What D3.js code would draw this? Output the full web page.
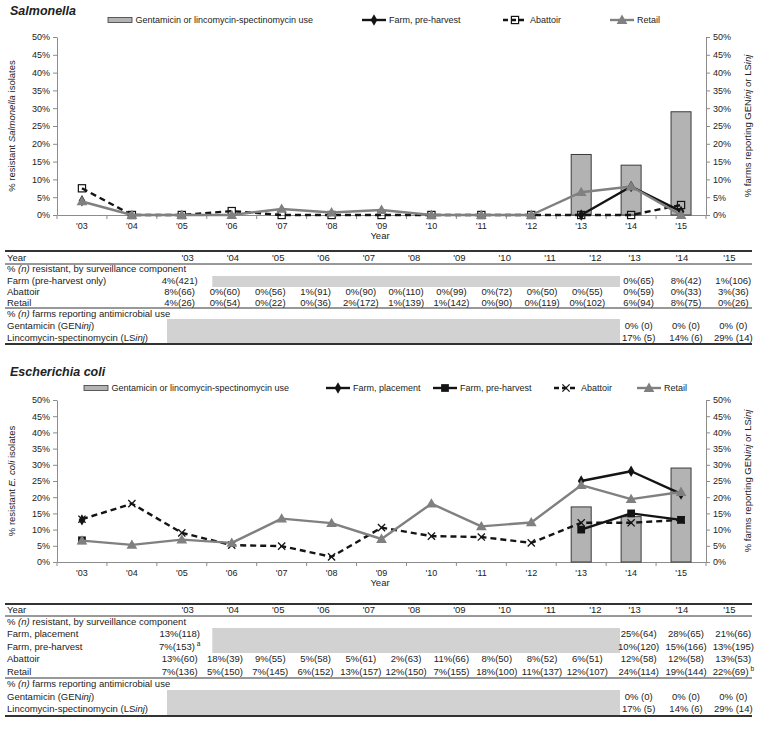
<!DOCTYPE html>
<html><head><meta charset="utf-8">
<script src="https://cdn.jsdelivr.net/npm/d3@7"></script>
<style>
body{margin:0;background:#fff;}
svg{font-family:"Liberation Sans",Arial,sans-serif;}
</style>
</head><body>
<svg id="c" width="762" height="733"></svg>
<script>
// ---------- DATA ----------
const years = ["'03","'04","'05","'06","'07","'08","'09","'10","'11","'12","'13","'14","'15"];
const yTicks = [0,5,10,15,20,25,30,35,40,45,50];

// Salmonella chart
const salUse      = [null,null,null,null,null,null,null,null,null,null,17,14,29];
const salFarmPre  = [4,null,null,null,null,null,null,null,null,null,0,8,1];
const salAbattoir = [7.5,0,0,1.1,0,0,0,0,0,0,0,0,2.8];
const salRetail   = [3.8,0,0,0,1.7,0.7,1.4,0,0,0,6.4,8.0,0];

// E. coli chart
const ecUse        = [null,null,null,null,null,null,null,null,null,null,17,14,29];
const ecFarmPlace  = [13,null,null,null,null,null,null,null,null,null,25,28,21];
const ecFarmPre    = [6.7,null,null,null,null,null,null,null,null,null,10,15,13];
const ecAbattoir   = [13.2,18,9,5.2,4.9,1.6,10.6,8,7.7,5.9,12.1,12.1,13];
const ecRetail     = [6.6,5.3,6.9,5.9,13.4,12,7.1,18,11,12.2,23.7,19.4,21.6];

// Salmonella table
const salTabFarm  = ["4%(421)",null,null,null,null,null,null,null,null,null,"0%(65)","8%(42)","1%(106)"];
const salTabAbat  = ["8%(66)","0%(60)","0%(56)","1%(91)","0%(90)","0%(110)","0%(99)","0%(72)","0%(50)","0%(55)","0%(59)","0%(33)","3%(36)"];
const salTabRet   = ["4%(26)","0%(54)","0%(22)","0%(36)","2%(172)","1%(139)","1%(142)","0%(90)","0%(119)","0%(102)","6%(94)","8%(75)","0%(26)"];
const salTabGen   = [null,null,null,null,null,null,null,null,null,null,"0% (0)","0% (0)","0% (0)"];
const salTabLin   = [null,null,null,null,null,null,null,null,null,null,"17% (5)","14% (6)","29% (14)"];

// E. coli table
const ecTabPlace  = ["13%(118)",null,null,null,null,null,null,null,null,null,"25%(64)","28%(65)","21%(66)"];
const ecTabPre    = ["7%(153)",null,null,null,null,null,null,null,null,null,"10%(120)","15%(166)","13%(195)"];
const ecTabAbat   = ["13%(60)","18%(39)","9%(55)","5%(58)","5%(61)","2%(63)","11%(66)","8%(50)","8%(52)","6%(51)","12%(58)","12%(58)","13%(53)"];
const ecTabRet    = ["7%(136)","5%(150)","7%(145)","6%(152)","13%(157)","12%(150)","7%(155)","18%(100)","11%(137)","12%(107)","24%(114)","19%(144)","22%(69)"];
const ecTabGen    = [null,null,null,null,null,null,null,null,null,null,"0% (0)","0% (0)","0% (0)"];
const ecTabLin    = [null,null,null,null,null,null,null,null,null,null,"17% (5)","14% (6)","29% (14)"];

// ---------- DRAWING ----------
const svg = d3.select("#c");
const BLACK = "#141414", GREY = "#808080", BARFILL = "#b3b3b3", AXIS = "#8c8c8c", SHADE = "#d2d2d2";

const x = d3.scaleBand().domain(years).range([57, 706]);
const cx = d => x(d) + x.bandwidth()/2;

function xMarkPath(s){ return `M${-s},${-s}L${s},${s}M${-s},${s}L${s},${-s}`; }

function marker(g, type, px, py, color){
  if(type==="diamond"){
    g.append("path").attr("d", d3.symbol().type(d3.symbolDiamond).size(38)()).attr("transform",`translate(${px},${py})`).attr("fill",color);
  } else if(type==="square"){
    g.append("path").attr("d", d3.symbol().type(d3.symbolSquare).size(60)()).attr("transform",`translate(${px},${py})`).attr("fill",color);
  } else if(type==="opensquare"){
    g.append("rect").attr("x",px-3.6).attr("y",py-3.6).attr("width",7.2).attr("height",7.2).attr("fill","none").attr("stroke",color).attr("stroke-width",1.2);
  } else if(type==="triangle"){
    g.append("path").attr("d", d3.symbol().type(d3.symbolTriangle).size(50)()).attr("transform",`translate(${px},${py+0.8})`).attr("fill",color);
  } else if(type==="x"){
    g.append("path").attr("d", xMarkPath(3.6)).attr("transform",`translate(${px},${py})`).attr("stroke",color).attr("stroke-width",1.3).attr("fill","none");
  }
}

function drawChart(cfg){
  const g = svg.append("g");
  const y = d3.scaleLinear().domain([0,50]).range([cfg.y0, cfg.y50]);

  g.append("text").attr("x",10).attr("y",cfg.titleY).attr("font-size",12.5).attr("font-weight","bold").attr("font-style","italic").attr("fill","#222").text(cfg.title);

  const la = g.append("g").attr("transform","translate(57,0)")
    .call(d3.axisLeft(y).tickValues(yTicks).tickFormat(d=>d+"%").tickSize(4).tickSizeOuter(0));
  const ra = g.append("g").attr("transform","translate(706,0)")
    .call(d3.axisRight(y).tickValues(yTicks).tickFormat(d=>d+"%").tickSize(4).tickSizeOuter(0));
  [la,ra].forEach(a=>{
    a.selectAll("path.domain").attr("stroke",AXIS);
    a.selectAll(".tick line").attr("stroke",AXIS);
    a.selectAll("text").attr("font-size",9).attr("fill","#222").attr("font-family","Liberation Sans, Arial, sans-serif");
  });
  const xa = g.append("g").attr("transform",`translate(0,${cfg.y0})`)
    .call(d3.axisBottom(x).tickSize(0).tickPadding(8));
  xa.selectAll("path.domain").attr("stroke",AXIS);
  xa.selectAll("text").attr("font-size",9).attr("fill","#222").attr("font-family","Liberation Sans, Arial, sans-serif");
  const bounds = years.map(d=>x(d)).concat([x.range()[1]]);
  g.selectAll(null).data(bounds).enter().append("line")
    .attr("x1",d=>d).attr("x2",d=>d).attr("y1",cfg.y0).attr("y2",cfg.y0+4).attr("stroke",AXIS);

  g.append("text").attr("x",380).attr("y",cfg.y0+24).attr("text-anchor","middle").attr("font-size",9.5).attr("fill","#222").text("Year");
  const lt = g.append("text").attr("transform",`translate(15,${(cfg.y0+cfg.y50)/2}) rotate(-90)`).attr("text-anchor","middle").attr("font-size",9.5).attr("fill","#222");
  lt.append("tspan").text("% resistant ");
  lt.append("tspan").attr("font-style","italic").text(cfg.organism);
  lt.append("tspan").text(" isolates");
  const rt = g.append("text").attr("transform",`translate(751,${(cfg.y0+cfg.y50)/2}) rotate(-90)`).attr("text-anchor","middle").attr("font-size",9.5).attr("fill","#222");
  rt.append("tspan").text("% farms reporting GEN");
  rt.append("tspan").attr("font-style","italic").text("inj");
  rt.append("tspan").text(" or LS");
  rt.append("tspan").attr("font-style","italic").text("inj");

  const bw = 20;
  cfg.use.forEach((v,i)=>{
    if(v==null) return;
    g.append("rect").attr("x",cx(years[i])-bw/2).attr("y",y(v)).attr("width",bw).attr("height",y(0)-y(v))
      .attr("fill",BARFILL).attr("stroke","#3a3a3a").attr("stroke-width",1);
  });

  cfg.series.forEach(s=>{
    const line = d3.line().defined(d=>d!=null).x((d,i)=>cx(years[i])).y(d=>y(d));
    g.append("path").datum(s.values).attr("d",line).attr("fill","none").attr("stroke",s.color)
      .attr("stroke-width",2.4).attr("stroke-dasharray",s.dash||null).attr("stroke-linejoin","round");
    s.values.forEach((v,i)=>{ if(v!=null) marker(g,s.marker,cx(years[i]),y(v),s.mcolor||s.color); });
  });

  const ly = cfg.legendY;
  const lg = g.append("g");
  lg.append("rect").attr("x",cfg.legend.bar).attr("y",ly-2.5).attr("width",24).attr("height",5).attr("fill",BARFILL).attr("stroke","#3a3a3a").attr("stroke-width",0.8);
  lg.append("text").attr("x",cfg.legend.bar+27.5).attr("y",ly+3.2).attr("font-size",9).attr("fill","#222").text("Gentamicin or lincomycin-spectinomycin use");
  cfg.series.forEach((s,k)=>{
    const lx = cfg.legend.items[k];
    lg.append("line").attr("x1",lx).attr("x2",lx+24).attr("y1",ly).attr("y2",ly).attr("stroke",s.color).attr("stroke-width",2.4).attr("stroke-dasharray",s.dash?"5,3":null);
    marker(lg,s.marker,lx+12,ly,s.mcolor||s.color);
    lg.append("text").attr("x",lx+27).attr("y",ly+3.2).attr("font-size",9).attr("fill","#222").text(s.name);
  });
}

drawChart({
  title:"Salmonella", organism:"Salmonella", titleY:15, legendY:20, y0:215, y50:37,
  use: salUse,
  legend:{bar:108, items:[362,503,610]},
  series:[
    {name:"Farm, pre-harvest", values:salFarmPre, color:BLACK, marker:"diamond"},
    {name:"Abattoir", values:salAbattoir, color:BLACK, dash:"6,4", marker:"opensquare"},
    {name:"Retail", values:salRetail, color:GREY, marker:"triangle"}
  ]
});
drawChart({
  title:"Escherichia coli", organism:"E. coli", titleY:376, legendY:388, y0:562, y50:400,
  use: ecUse,
  legend:{bar:84, items:[326,433,554,637]},
  series:[
    {name:"Farm, placement", values:ecFarmPlace, color:BLACK, marker:"diamond"},
    {name:"Farm, pre-harvest", values:ecFarmPre, color:BLACK, marker:"square"},
    {name:"Abattoir", values:ecAbattoir, color:BLACK, dash:"6,4", marker:"x"},
    {name:"Retail", values:ecRetail, color:GREY, marker:"triangle"}
  ]
});

// ---------- TABLES ----------
const colA = d3.scaleBand().domain(years.slice(0,10)).range([167,620]);
const colB = d3.scaleBand().domain(years.slice(10)).range([618,760]);
const colLeft = i => i<10 ? colA(years[i]) : colB(years[i]);
const colW = i => i<10 ? colA.bandwidth() : colB.bandwidth();
const dataX = i => colLeft(i) + colW(i)/2 + (i<10 ? -10 : -3);
const headX = i => colLeft(i) + colW(i)/2 + (i<10 ? -2 : -7);

function hline(g,y,w){ g.append("line").attr("x1",5).attr("x2",752).attr("y1",y).attr("y2",y).attr("stroke","#333").attr("stroke-width",w); }

function drawTable(t){
  const g = svg.append("g").attr("font-size",9.5).attr("fill","#222");
  t.shades.forEach(s=>{
    const left = colLeft(s.from), right = colA(years[s.to]) + colA.bandwidth();
    g.append("rect").attr("x",left).attr("y",s.y1).attr("width",right-left).attr("height",s.y2-s.y1).attr("fill",SHADE);
  });
  hline(g,t.top,2);
  hline(g,t.headLine,1);
  hline(g,t.midLine,1);
  hline(g,t.bottom,2);
  g.append("text").attr("x",7).attr("y",t.headY+3).text("Year");
  years.forEach((yr,i)=> g.append("text").attr("x",headX(i)).attr("y",t.headY+3).attr("text-anchor","middle").text(yr));
  t.rows.forEach(r=>{
    if(r.section){
      const tx = g.append("text").attr("x",7).attr("y",r.y+3);
      tx.append("tspan").text("% ");
      tx.append("tspan").attr("font-style","italic").text("(n)");
      tx.append("tspan").text(r.section);
      return;
    }
    const lab = g.append("text").attr("x",7).attr("y",r.y+3);
    r.label.forEach(p=> lab.append("tspan").attr("font-style",p.i?"italic":null).text(p.t));
    r.cells.forEach((c,i)=>{
      if(c==null) return;
      const tx = g.append("text").attr("x",dataX(i)).attr("y",r.y+3).attr("text-anchor","middle");
      tx.append("tspan").text(c);
      if(r.sup && r.sup[i]){ tx.append("tspan").attr("dy",-4).attr("font-size",6.5).text(" "+r.sup[i]); }
    });
  });
}

drawTable({
  top:251, headLine:264, midLine:308, bottom:344, headY:258,
  shades:[{from:1,to:9,y1:276,y2:287},{from:0,to:9,y1:319,y2:344}],
  rows:[
    {section:" resistant, by surveillance component", y:269},
    {label:[{t:"Farm (pre-harvest only)"}], cells:salTabFarm, y:281},
    {label:[{t:"Abattoir"}], cells:salTabAbat, y:292},
    {label:[{t:"Retail"}], cells:salTabRet, y:303},
    {section:" farms reporting antimicrobial use", y:314},
    {label:[{t:"Gentamicin (GEN"},{t:"inj",i:1},{t:")"}], cells:salTabGen, y:326},
    {label:[{t:"Lincomycin-spectinomycin (LS"},{t:"inj",i:1},{t:")"}], cells:salTabLin, y:338}
  ]
});
drawTable({
  top:604, headLine:616, midLine:678, bottom:716, headY:610,
  shades:[{from:1,to:9,y1:628,y2:653},{from:0,to:9,y1:690,y2:716}],
  rows:[
    {section:" resistant, by surveillance component", y:622},
    {label:[{t:"Farm, placement"}], cells:ecTabPlace, y:634},
    {label:[{t:"Farm, pre-harvest"}], cells:ecTabPre, y:647, sup:{0:"a"}},
    {label:[{t:"Abattoir"}], cells:ecTabAbat, y:659},
    {label:[{t:"Retail"}], cells:ecTabRet, y:672, sup:{12:"b"}},
    {section:" farms reporting antimicrobial use", y:684},
    {label:[{t:"Gentamicin (GEN"},{t:"inj",i:1},{t:")"}], cells:ecTabGen, y:697},
    {label:[{t:"Lincomycin-spectinomycin (LS"},{t:"inj",i:1},{t:")"}], cells:ecTabLin, y:709}
  ]
});
</script>
</body></html>
